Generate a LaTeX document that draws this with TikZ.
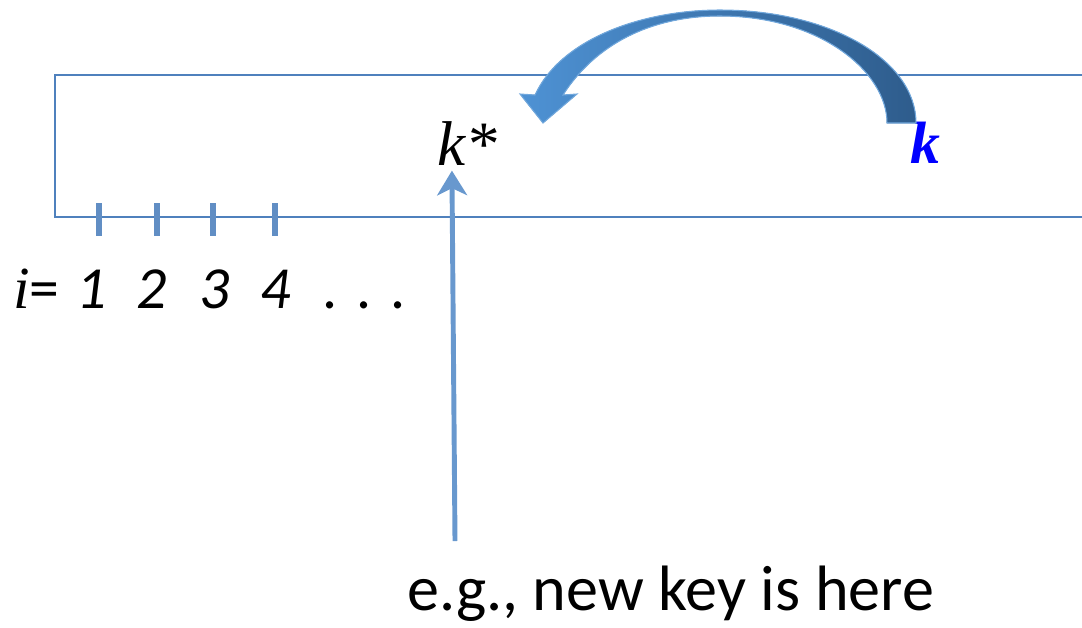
\documentclass[tikz,border=0pt]{standalone}
\usepackage{fontspec}
\setmainfont{Carlito}
\newfontfamily\timesfont{Liberation Serif}
\usepackage{xcolor}
\usepackage{tikz}
\usetikzlibrary{calc, arrows.meta}

\definecolor{boxblue}{RGB}{79,129,189}
\definecolor{keyblue}{RGB}{104,152,206}
\definecolor{arclight}{RGB}{78,146,212}
\definecolor{arcdark}{RGB}{46,92,140}

\begin{document}
\begin{tikzpicture}[x=0.02cm, y=-0.02cm,
    boxline/.style={boxblue, line width=1.2pt},
    tickline/.style={boxblue!90!white, line width=3.3pt},
    keyarrow/.style={keyblue, line width=2.8pt, -{Stealth[length=14pt, width=17pt, inset=4pt]}},
    lbl/.style={inner sep=0pt, font=\fontsize{34}{40}\selectfont}]
  \useasboundingbox (0,0) rectangle (1082,627);
  % the array, open on the right
  \draw[boxline] (1100,75) -- (55,75) -- (55,217) -- (1100,217);
  % index ticks and labels
  \node[lbl, anchor=base west] (ieq) at (13,308) {{\timesfont\itshape i}=};
  \foreach \x/\lx/\n in {99/92/1, 157/152/2, 213/215/3, 275/276/4} {
    \draw[tickline] (\x,203) -- (\x,236);
    \node[lbl, anchor=base, font=\fontsize{34}{40}\selectfont\itshape] (i\n) at (\lx,308) {\n};
  }
  \node[lbl, anchor=base west] (dots) at (322,308) {.\hspace{0.32em}.\hspace{0.32em}.};
  % keys
  \node[lbl, anchor=base west, font=\fontsize{36}{40}\selectfont\timesfont\itshape] (kstar) at (437,165) {k*};
  \node[lbl, anchor=base west, text=blue, font=\fontsize{34}{40}\selectfont\timesfont\bfseries\itshape] (k) at (910,163) {k};
  % new key position
  \node[lbl, anchor=base west, font=\fontsize{36.5}{40}\selectfont] (note) at (407,610) {e.g., new key is here};
  \coordinate (src) at (455,541);
  \draw[keyarrow] (src) -- ([xshift=8.5pt, yshift=-3pt]kstar.south west);
  % curved move arrow from k to k*
  \fill[left color=arclight, right color=arcdark, draw=arclight!80!white, line width=0.6pt]
    (535,95) .. controls (560,40) and (640,10) .. (720,10)
    .. controls (830,10) and (916,60) .. (916,123)
    -- (887,123)
    .. controls (887,72) and (820,16) .. (720,16)
    .. controls (650,16) and (595,45) .. (563,95)
    -- (577,94) -- (543,123) -- (520,94) -- cycle;
\end{tikzpicture}
\end{document}
